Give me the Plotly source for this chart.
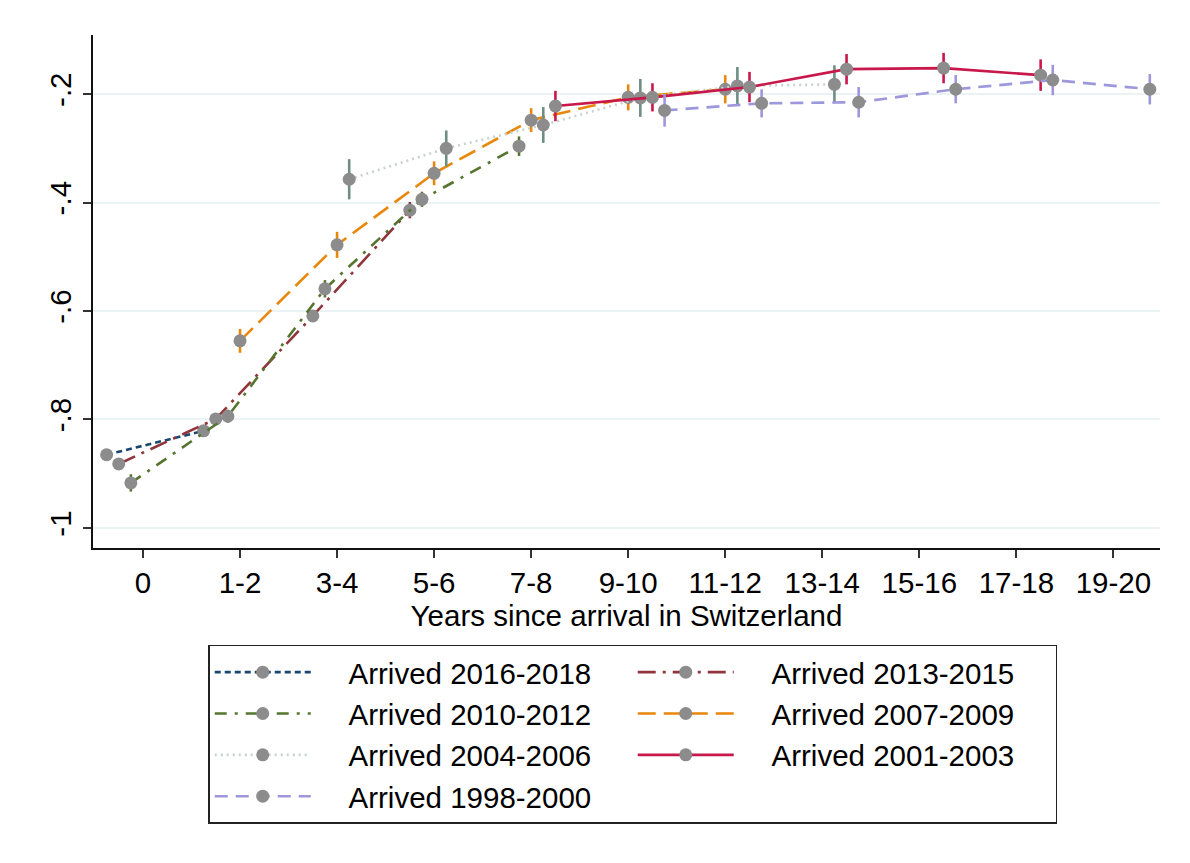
import plotly.graph_objects as go

# ---- data ----
categories = ["0", "1-2", "3-4", "5-6", "7-8", "9-10", "11-12", "13-14", "15-16", "17-18", "19-20"]

names = ["Arrived 2016-2018", "Arrived 2013-2015", "Arrived 2010-2012", "Arrived 2007-2009",
         "Arrived 2004-2006", "Arrived 2001-2003", "Arrived 1998-2000"]

cat_2016 = ["0", "1-2"]
est_2016 = [-0.865, -0.821]
ci_2016 = [0.008, 0.008]

cat_2013 = ["0", "1-2", "3-4", "5-6"]
est_2013 = [-0.882, -0.799, -0.609, -0.414]
ci_2013 = [0.009, 0.009, 0.010, 0.015]

cat_2010 = ["0", "1-2", "3-4", "5-6", "7-8"]
est_2010 = [-0.917, -0.794, -0.559, -0.394, -0.296]
ci_2010 = [0.016, 0.012, 0.016, 0.014, 0.018]

cat_2007 = ["1-2", "3-4", "5-6", "7-8", "9-10", "11-12"]
est_2007 = [-0.655, -0.478, -0.346, -0.248, -0.206, -0.191]
ci_2007 = [0.022, 0.024, 0.022, 0.022, 0.024, 0.026]

cat_2004 = ["3-4", "5-6", "7-8", "9-10", "11-12", "13-14"]
est_2004 = [-0.357, -0.300, -0.257, -0.207, -0.185, -0.182]
ci_2004 = [0.037, 0.033, 0.033, 0.035, 0.035, 0.035]

cat_2001 = ["7-8", "9-10", "11-12", "13-14", "15-16", "17-18"]
est_2001 = [-0.222, -0.206, -0.187, -0.154, -0.152, -0.165]
ci_2001 = [0.028, 0.026, 0.028, 0.028, 0.028, 0.029]

cat_1998 = ["9-10", "11-12", "13-14", "15-16", "17-18", "19-20"]
est_1998 = [-0.230, -0.217, -0.215, -0.191, -0.174, -0.191]
ci_1998 = [0.030, 0.026, 0.028, 0.026, 0.028, 0.028]

y_ticks = [-1, -0.8, -0.6, -0.4, -0.2]
y_ticklabels = ["-1", "-.8", "-.6", "-.4", "-.2"]

# ---- styles ----
series = [
    (cat_2016, est_2016, ci_2016, -0.375, "#1a476f", "#1a476f", "6px,4px"),
    (cat_2013, est_2013, ci_2013, -0.25, "#90353b", "#90353b", "18px,7px,3px,7px"),
    (cat_2010, est_2010, ci_2010, -0.125, "#55752f", "#55752f", "12px,8px,3px,8px"),
    (cat_2007, est_2007, ci_2007, 0.0, "#e8870a", "#e8870a", "18px,8px"),
    (cat_2004, est_2004, ci_2004, 0.125, "#c9d2cf", "#6e8e84", "2px,4px"),
    (cat_2001, est_2001, ci_2001, 0.25, "#c8174a", "#c8174a", "solid"),
    (cat_1998, est_1998, ci_1998, 0.375, "#9d97dc", "#9d97dc", "13px,8px"),
]

FONT = "Arial, Liberation Sans, sans-serif"
MARKER_GRAY = "#8c8c8c"
FS = 29.5
PAD = "\u00a0\u00a0\u00a0\u00a0"  # gap between legend key and its label

fig = go.Figure()
for name, (cats, est, ci, off, lcol, ecol, dash) in zip(names, series):
    xs = [categories.index(c) + off for c in cats]
    fig.add_trace(go.Scatter(
        x=xs, y=est, name=PAD + name, mode="lines+markers",
        line=dict(color=lcol, width=2.6, dash=dash),
        marker=dict(color=MARKER_GRAY, size=13),
        error_y=dict(type="data", array=ci, color=ecol, thickness=2.6, width=0),
    ))

fig.update_layout(
    width=1190, height=863,
    margin=dict(l=93, r=30, t=35, b=315, autoexpand=False),
    paper_bgcolor="white", plot_bgcolor="white",
    font=dict(family=FONT, size=FS, color="black"),
    showlegend=True,
    legend=dict(
        orientation="h",
        x=0.108, xanchor="left",
        y=-0.189, yanchor="top",
        bordercolor="#222222", borderwidth=1.5,
        entrywidth=312, entrywidthmode="pixels",
        itemwidth=96,
        font=dict(family=FONT, size=FS, color="black"),
        tracegroupgap=0,
    ),
)

fig.update_xaxes(
    range=[-0.515, 10.48],
    tickmode="array", tickvals=list(range(len(categories))), ticktext=categories,
    showgrid=False, zeroline=False,
    showline=True, linecolor="#111111", linewidth=1.5,
    ticks="outside", ticklen=8, tickwidth=1.5, tickcolor="#333333",
    tickfont=dict(family=FONT, size=FS, color="black"),
    title=dict(text="Years since arrival in Switzerland", standoff=0,
               font=dict(family=FONT, size=FS, color="black")),
)
fig.update_yaxes(
    range=[-1.037, -0.091],
    tickmode="array", tickvals=y_ticks, ticktext=y_ticklabels,
    tickangle=-90,
    showgrid=True, gridcolor="#eaf2f3", gridwidth=1.5,
    zeroline=False,
    showline=True, linecolor="#111111", linewidth=1.5,
    ticks="outside", ticklen=8, tickwidth=1.5, tickcolor="#333333",
    tickfont=dict(family=FONT, size=FS, color="black"),
)

fig.write_html("out.html")
